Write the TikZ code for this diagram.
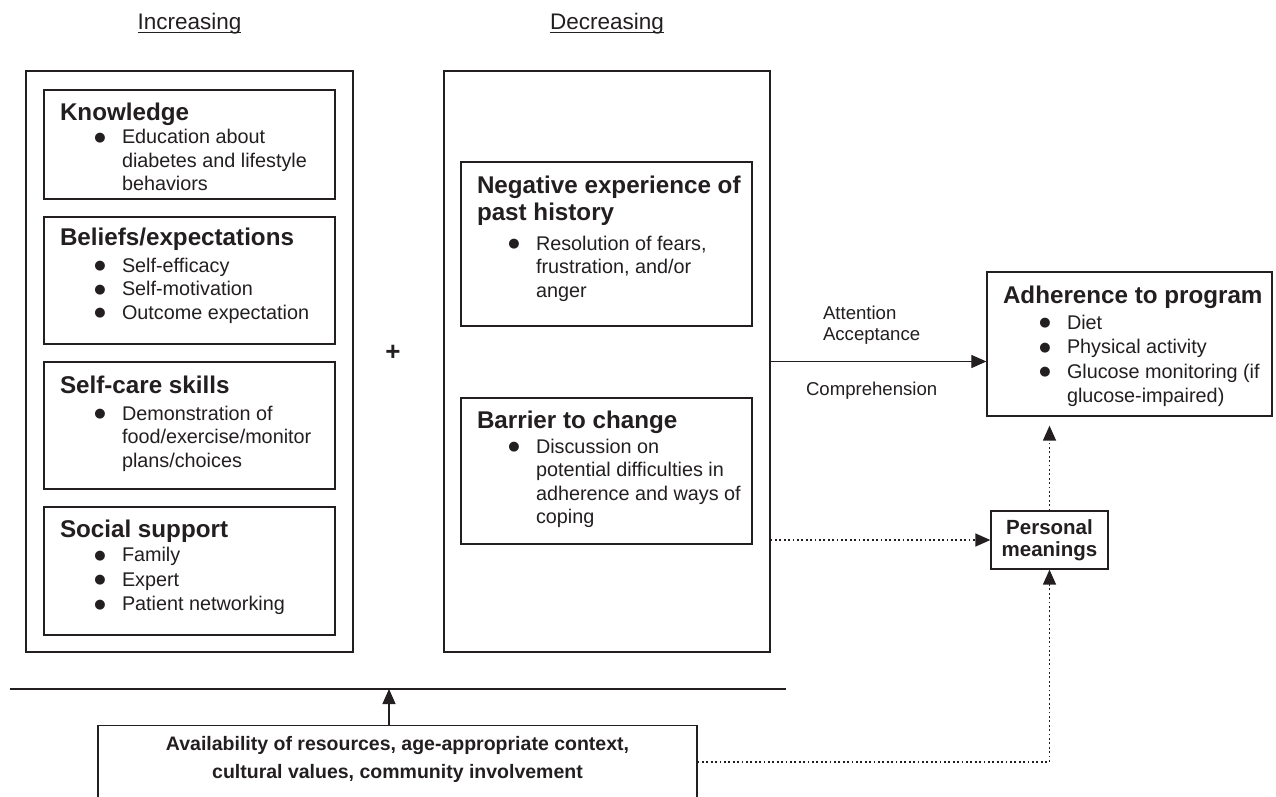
\documentclass[tikz,border=0pt]{standalone}
\usepackage{fontspec}
\setmainfont{Liberation Sans}
\newfontfamily\symfont{DejaVu Sans}
\usetikzlibrary{arrows.meta,calc}
\definecolor{ink}{RGB}{35,31,32}
\newcommand{\ttlf}{\fontsize{24.2}{27}\selectfont\bfseries}
\newcommand{\bigbul}{\raisebox{2.3pt}{\symfont\fontsize{13}{13}\selectfont ●}}
\newcommand{\myitem}[1]{\leavevmode\llap{\makebox[0pt][c]{\bigbul}\hspace{22pt}}#1\par}
% #1 baselineskip, #2 title, #3 leftskip, #4 extra gap, #5 items
\newcommand{\boxtext}[5][23.5]{\parbox[t]{320pt}{\raggedright{\ttlf #2\par}\vspace{#4}\leftskip=#3\fontsize{19.8}{#1}\selectfont #5}}
\tikzset{
  box/.style={draw=ink, line width=1.3pt, rectangle, inner sep=0pt},
  txt/.style={inner sep=0pt, outer sep=0pt, text=ink},
  head/.style={txt, font=\fontsize{22.5}{26}\selectfont},
  lbl/.style={txt, font=\fontsize{18.6}{21}\selectfont},
  arr/.style={draw=ink, line width=1.2pt, -{Triangle[length=15pt,width=13pt]}},
  dotarr/.style={arr, line width=1.4pt, dash pattern=on 1.8pt off 2.6pt},
  plainline/.style={draw=ink, line width=1.3pt},
}
\begin{document}
\begin{tikzpicture}[x=1pt,y=-1pt]
\clip (0,0) rectangle (1276,796);
\fill[white] (0,0) rectangle (1276,796);

% headings
\node[head, anchor=base] (inc) at (189.5,29) {Increasing};
\node[head, anchor=base] (dec) at (607,29) {Decreasing};
\draw[ink, line width=1.1pt] ([yshift=-3.5pt]inc.base west) -- ([yshift=-3.5pt]inc.base east);
\draw[ink, line width=1.1pt] ([yshift=-3.5pt]dec.base west) -- ([yshift=-3.5pt]dec.base east);

% left column
\node[box, minimum width=327pt, minimum height=581pt] (outerL) at (189.5,361.5) {};
\node[box, minimum width=291pt, minimum height=109pt] (know) at (189.5,144.5) {};
\node[box, minimum width=291pt, minimum height=127pt] (belief) at (189.5,280.5) {};
\node[box, minimum width=291pt, minimum height=127pt] (selfcare) at (189.5,425.5) {};
\node[box, minimum width=291pt, minimum height=128pt] (social) at (189.5,571) {};

\node[txt, anchor=base west] (knowT) at (60,120) {\boxtext{Knowledge}{62pt}{0pt}{\myitem{Education about\\diabetes and lifestyle\\behaviors}}};
\node[txt, anchor=base west] (beliefT) at (60,245) {\boxtext{Beliefs/expectations}{62pt}{3.5pt}{\myitem{Self-efficacy}\myitem{Self-motivation}\myitem{Outcome expectation}}};
\node[txt, anchor=base west] (selfcareT) at (60,393) {\boxtext{Self-care skills}{62pt}{3.5pt}{\myitem{Demonstration of\\food/exercise/monitor\\plans/choices}}};
\node[txt, anchor=base west] (socialT) at (60,537) {\boxtext[24.5]{Social support}{62pt}{0pt}{\myitem{Family}\myitem{Expert}\myitem{Patient networking}}};

% plus
\node[txt, font=\fontsize{26}{28}\selectfont\bfseries] (plus) at (393,353) {+};

% middle column
\node[box, minimum width=326pt, minimum height=581pt] (outerM) at (607,361.5) {};
\node[box, minimum width=291pt, minimum height=164pt] (neg) at (606.5,244) {};
\node[box, minimum width=291pt, minimum height=146pt] (barrier) at (606.5,471) {};

\node[txt, anchor=base west] (negT) at (477,193) {\boxtext{Negative experience of\\past history}{59pt}{6.5pt}{\myitem{Resolution of fears,\\frustration, and/or\\anger}}};
\node[txt, anchor=base west] (barrierT) at (477,428) {\boxtext{Barrier to change}{59pt}{1.5pt}{\myitem{Discussion on\\potential difficulties in\\adherence and ways of\\coping}}};

% right side
\node[box, minimum width=285pt, minimum height=144pt] (adh) at (1129.5,344) {};
\node[txt, anchor=base west] (adhT) at (1003,303) {\boxtext[24.5]{Adherence to program}{64pt}{1.5pt}{\myitem{Diet}\myitem{Physical activity}\myitem{Glucose monitoring (if\\glucose-impaired)}}};

\node[box, minimum width=117pt, minimum height=58pt, align=center, text=ink,
      font=\fontsize{20.5}{22}\selectfont\bfseries] (pers) at (1049.5,540) {Personal\\meanings};

% labels
\node[lbl, anchor=base west] (att) at (823,319) {Attention};
\node[lbl, anchor=base west] (acc) at (823,340) {Acceptance};
\node[lbl, anchor=base west] (comp) at (806,395) {Comprehension};

% bottom
\node[box, minimum width=599pt, minimum height=95pt, anchor=north] (bottom) at (397.5,725) {};
\node[txt, anchor=base] (bottomT) at (397.5,750) {\parbox[t]{600pt}{\centering\fontsize{19.5}{28}\selectfont\bfseries
Availability of resources, age-appropriate context,\\cultural values, community involvement}};

\coordinate (hl) at (10,689);
\coordinate (hr) at (786,689);
\coordinate (up) at (389,689);
\coordinate (bc) at (1049.5,762);

% connectors
\draw[plainline] (hl) -- (hr);
\draw[arr] (up |- bottom.north) -- (up);
\draw[arr] (outerM.east) -- (outerM.east -| adh.west);
\draw[dotarr] (pers.west -| outerM.east) -- (pers.west);
\draw[dotarr, shorten >=9pt] (pers.north) -- (pers.north |- adh.south);
\draw[dotarr] (bottom.east |- bc) -- (bc) -- (pers.south);
\end{tikzpicture}
\end{document}
